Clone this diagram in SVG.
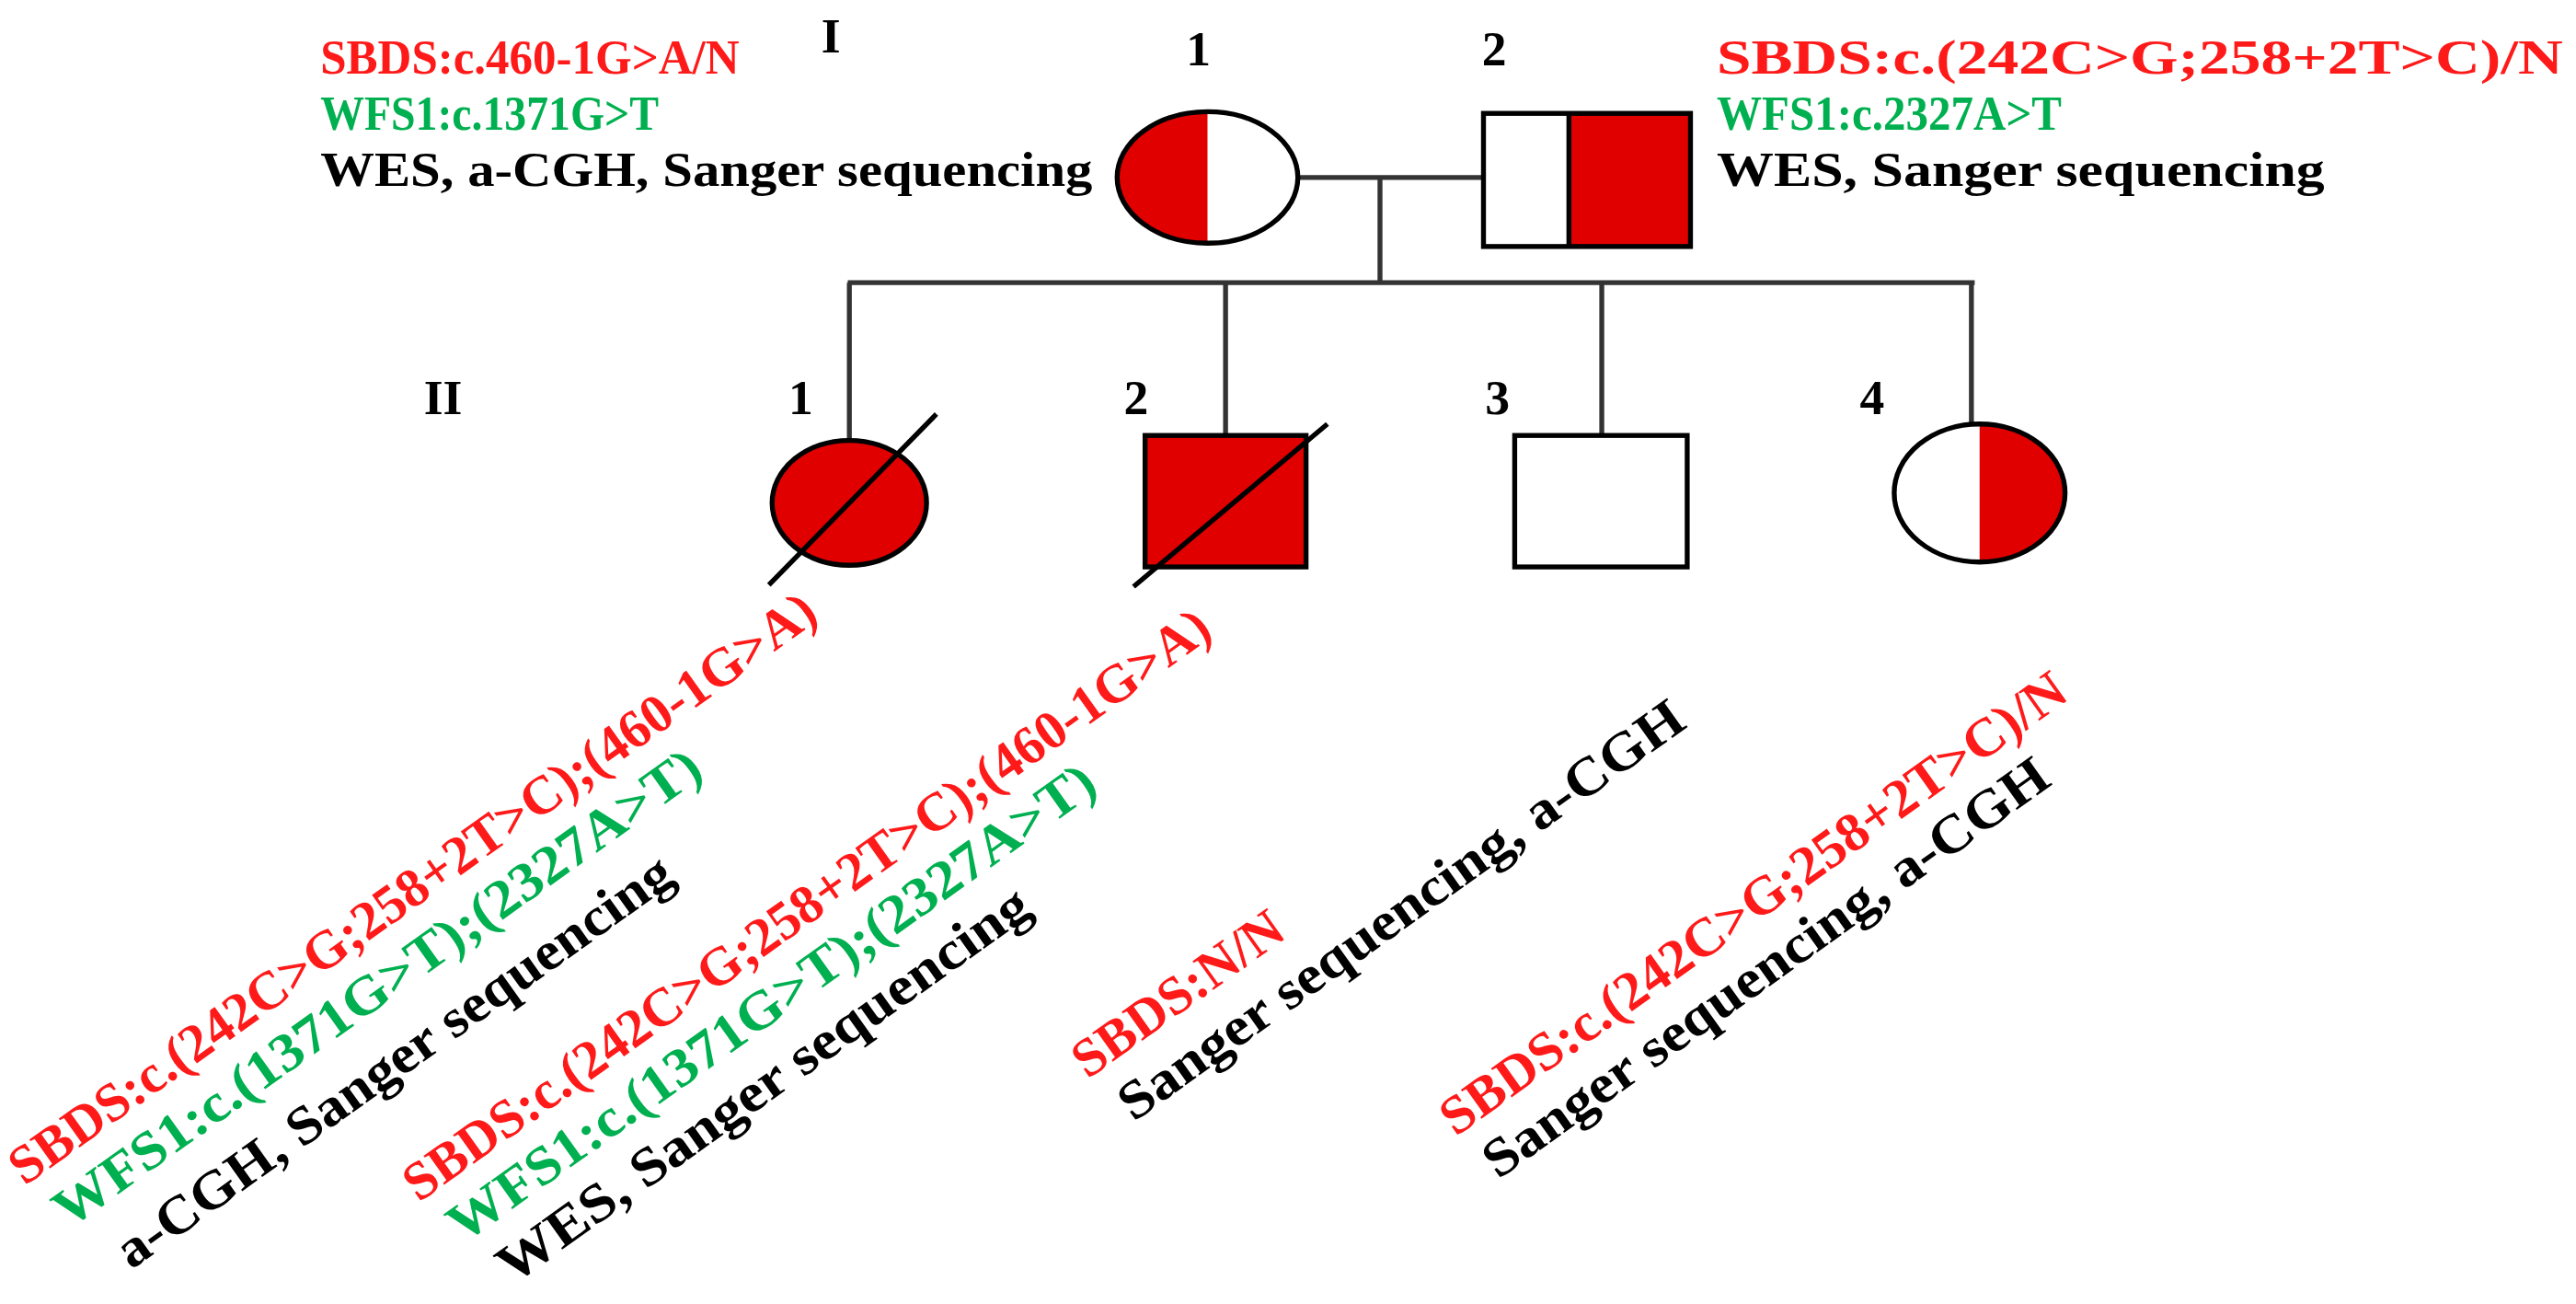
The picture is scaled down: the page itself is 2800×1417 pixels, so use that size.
<svg xmlns="http://www.w3.org/2000/svg" width="2800" height="1417" viewBox="0 0 2800 1417">
<style>
text{font-family:"Liberation Serif","DejaVu Serif",serif;font-size:33px;font-weight:bold}
.t{font-size:29px}
.r{fill:#ff1a1a}.g{fill:#00b050}.k{fill:#000}
.lab{font-size:30px}
.sh{stroke:#000;stroke-width:3}
.ln{stroke:#333;stroke-width:3;fill:none}
</style>
<rect width="2800" height="1417" fill="#fff"/>
<g transform="scale(1.7857)">
<g id="connectors">
<line class="ln" x1="790" y1="108" x2="903" y2="108"/>
<line class="ln" x1="840" y1="108" x2="840" y2="172"/>
<line class="ln" x1="516" y1="172" x2="1202" y2="172"/>
<line class="ln" x1="517" y1="172" x2="517" y2="268"/>
<line class="ln" x1="746" y1="172" x2="746" y2="265"/>
<line class="ln" x1="975" y1="172" x2="975" y2="265"/>
<line class="ln" x1="1200" y1="172" x2="1200" y2="258"/>
</g>
<text class="lab" x="500" y="32">I</text>
<text class="lab" x="258" y="252">II</text>
<g id="I-1">
<text class="lab" x="722" y="40">1</text>
<path d="M735,68 A55,40 0 0 0 735,148 Z" fill="#e00000"/>
<ellipse class="sh" cx="735" cy="108" rx="55" ry="40" fill="none"/>
<text x="195" y="45" class="r t" textLength="255" lengthAdjust="spacingAndGlyphs">SBDS:c.460-1G&gt;A/N</text>
<text x="195" y="79" class="g t" textLength="206" lengthAdjust="spacingAndGlyphs">WFS1:c.1371G&gt;T</text>
<text x="195" y="113" class="k t" textLength="470" lengthAdjust="spacingAndGlyphs">WES, a-CGH, Sanger sequencing</text>
</g>
<g id="I-2">
<text class="lab" x="902" y="40">2</text>
<rect x="955" y="69" width="74" height="81" fill="#e00000"/>
<rect class="sh" x="903" y="69" width="126" height="81" fill="none"/>
<line class="sh" x1="955" y1="69" x2="955" y2="150"/>
<text x="1045" y="45" class="r t" textLength="515" lengthAdjust="spacingAndGlyphs">SBDS:c.(242C&gt;G;258+2T&gt;C)/N</text>
<text x="1045" y="79" class="g t" textLength="210" lengthAdjust="spacingAndGlyphs">WFS1:c.2327A&gt;T</text>
<text x="1045" y="113" class="k t" textLength="370" lengthAdjust="spacingAndGlyphs">WES, Sanger sequencing</text>
</g>
<g id="II-1">
<text class="lab" x="480" y="252">1</text>
<ellipse class="sh" cx="517" cy="306" rx="47" ry="38" fill="#e00000"/>
<line class="sh" x1="468" y1="356" x2="570" y2="252"/>
</g>
<g id="II-2">
<text class="lab" x="684" y="252">2</text>
<rect class="sh" x="697" y="265" width="98" height="80" fill="#e00000"/>
<line class="sh" x1="690" y1="357" x2="808" y2="258"/>
</g>
<g id="II-3">
<text class="lab" x="904" y="252">3</text>
<rect class="sh" x="922" y="265" width="105" height="80" fill="#fff"/>
</g>
<g id="II-4">
<text class="lab" x="1132" y="252">4</text>
<path d="M1205,258 A52,42 0 0 1 1205,342 Z" fill="#e00000"/>
<ellipse class="sh" cx="1205" cy="300" rx="52" ry="42" fill="none"/>
</g>
<g id="rotated-labels">
<text transform="translate(15,722) rotate(-35.5)" class="r" textLength="595" lengthAdjust="spacingAndGlyphs">SBDS:c.(242C&gt;G;258+2T&gt;C);(460-1G&gt;A)</text>
<text transform="translate(42,748) rotate(-35.5)" class="g" textLength="476" lengthAdjust="spacingAndGlyphs">WFS1:c.(1371G&gt;T);(2327A&gt;T)</text>
<text transform="translate(80,773) rotate(-35.5)" class="k" textLength="408" lengthAdjust="spacingAndGlyphs">a-CGH, Sanger sequencing</text>
<text transform="translate(255,732) rotate(-35.5)" class="r" textLength="595" lengthAdjust="spacingAndGlyphs">SBDS:c.(242C&gt;G;258+2T&gt;C);(460-1G&gt;A)</text>
<text transform="translate(282,757) rotate(-35.5)" class="g" textLength="476" lengthAdjust="spacingAndGlyphs">WFS1:c.(1371G&gt;T);(2327A&gt;T)</text>
<text transform="translate(312,782) rotate(-35.5)" class="k" textLength="390" lengthAdjust="spacingAndGlyphs">WES, Sanger sequencing</text>
<text transform="translate(662,657) rotate(-35.5)" class="r" textLength="150" lengthAdjust="spacingAndGlyphs">SBDS:N/N</text>
<text transform="translate(690,683) rotate(-35.5)" class="k" textLength="415" lengthAdjust="spacingAndGlyphs">Sanger sequencing, a-CGH</text>
<text transform="translate(886,692) rotate(-35.5)" class="r" textLength="460" lengthAdjust="spacingAndGlyphs">SBDS:c.(242C&gt;G;258+2T&gt;C)/N</text>
<text transform="translate(912,718) rotate(-35.5)" class="k" textLength="415" lengthAdjust="spacingAndGlyphs">Sanger sequencing, a-CGH</text>
</g>
</g>
</svg>
